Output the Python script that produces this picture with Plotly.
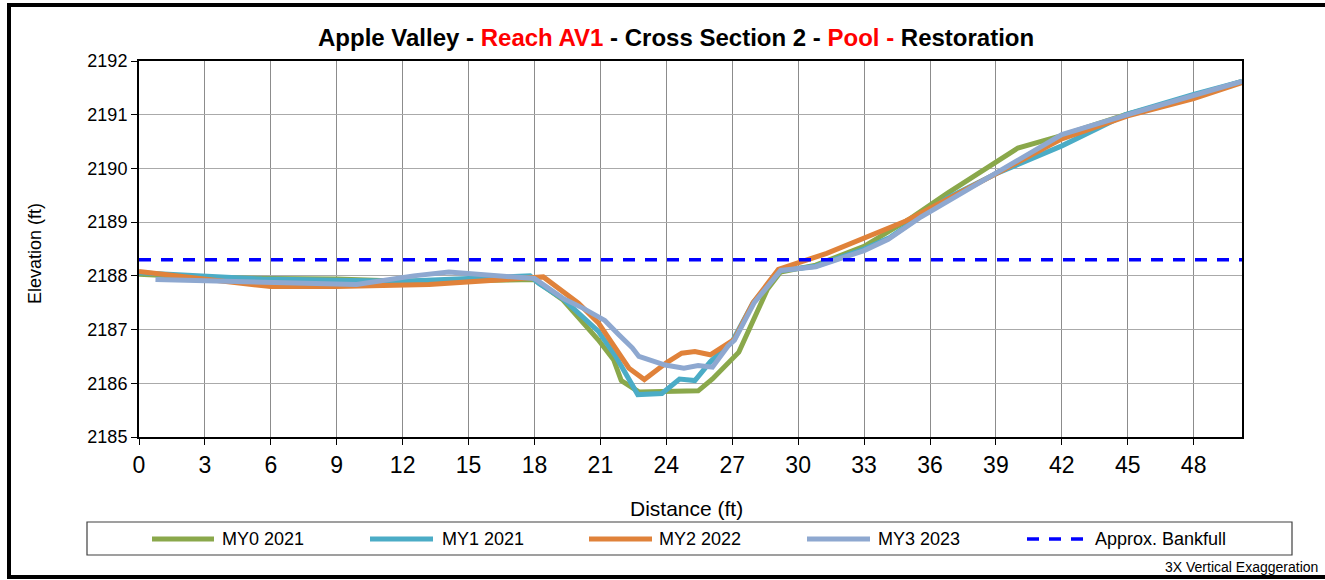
import plotly.graph_objects as go

# ---------------- data ----------------
my0_x = [0, 3, 6, 9, 12, 15, 18, 19.3, 20.9, 21.6, 21.95, 22.75, 25.45, 26.1, 27.3, 28.6, 29.2,
         30.8, 33.0, 35.0, 36.8, 40.0, 41.9, 44.9, 48.0, 50.2]
my0_y = [2188.03, 2187.97, 2187.95, 2187.94, 2187.9, 2187.92, 2187.93, 2187.55, 2186.81, 2186.44,
         2186.05, 2185.84, 2185.86, 2186.08, 2186.58, 2187.75, 2188.07,
         2188.2, 2188.55, 2189.04, 2189.54, 2190.38, 2190.6, 2191.0, 2191.34, 2191.62]

my1_x = [0, 3, 5.6, 9, 12, 15, 17.8, 18.2, 19.3, 20.9, 21.7, 22.7, 23.8, 24.6, 25.3, 26.0, 27.0,
         27.95, 29.2, 30.8, 33.0, 34.2, 36.8, 39.0, 42.0, 44.9, 48.0, 50.2]
my1_y = [2188.06, 2187.99, 2187.94, 2187.92, 2187.9, 2187.95, 2188.0, 2187.86, 2187.57, 2186.97,
         2186.5, 2185.79, 2185.81, 2186.08, 2186.05, 2186.4, 2186.78,
         2187.5, 2188.1, 2188.18, 2188.5, 2188.72, 2189.45, 2189.9, 2190.42, 2191.0, 2191.38, 2191.62]

my2_x = [0, 3, 6, 9, 13.2, 18.4, 20.0, 20.9, 21.6, 22.3, 23.0, 24.0, 24.7, 25.3, 26.0, 27.1,
         27.95, 29.1, 31.3, 33.0, 34.9, 39.0, 42.0, 45.0, 48.0, 50.2]
my2_y = [2188.08, 2187.95, 2187.8, 2187.8, 2187.84, 2187.98, 2187.49, 2187.13, 2186.72, 2186.28,
         2186.07, 2186.38, 2186.56, 2186.59, 2186.53, 2186.82,
         2187.5, 2188.12, 2188.42, 2188.71, 2189.02, 2189.9, 2190.55, 2190.98, 2191.3, 2191.6]

my3_x = [0.75, 6, 9.9, 12.5, 14.1, 18.0, 19.3, 20.2, 21.2, 21.85, 22.45, 22.75, 23.95, 24.8, 25.45,
         26.1, 26.8, 27.1, 28.0, 29.2, 30.8, 33.0, 34.1, 35.6, 38.9, 42.0, 45.0, 48.0, 50.2]
my3_y = [2187.93, 2187.88, 2187.84, 2188.0, 2188.07, 2187.95, 2187.58, 2187.4, 2187.17, 2186.9,
         2186.66, 2186.5, 2186.34, 2186.28, 2186.33,
         2186.3, 2186.69, 2186.8, 2187.5, 2188.1, 2188.17, 2188.47, 2188.68, 2189.1, 2189.88,
         2190.63, 2191.0, 2191.37, 2191.62]

bankfull_x = [0, 50.2]
bankfull_y = [2188.3, 2188.3]

series_names = ["MY0 2021", "MY1 2021", "MY2 2022", "MY3 2023", "Approx. Bankfull"]
series_colors = ["#8AA84B", "#4BACC6", "#E0823A", "#8EA8D0", "#0000FF"]

x_ticks = list(range(0, 49, 3))
y_ticks = list(range(2185, 2193))

# ---------------- layout geometry ----------------
W, H = 1325, 580
L, R, T, B = 139, 1242, 61, 437
FONT = "Liberation Sans, Arial, sans-serif"


def px_x(px):
    return (px - L) / (R - L)


def px_y(py):
    return (B - py) / (B - T)


fig = go.Figure()
data = [(my0_x, my0_y), (my1_x, my1_y), (my2_x, my2_y), (my3_x, my3_y)]
for (xs, ys), name, col in zip(data, series_names[:4], series_colors[:4]):
    fig.add_trace(go.Scatter(x=xs, y=ys, mode="lines", name=name,
                             line=dict(color=col, width=5), showlegend=False))
fig.add_trace(go.Scatter(x=bankfull_x, y=bankfull_y, mode="lines", name=series_names[4],
                         line=dict(color=series_colors[4], width=3.5, dash="12px,10px"),
                         showlegend=False))

shapes = []
annotations = []

# outer chart frame (right side runs off the canvas as in the reference)
shapes.append(dict(type="rect", xref="paper", yref="paper",
                   x0=px_x(9), x1=px_x(1330), y0=px_y(577), y1=px_y(5),
                   line=dict(color="black", width=4)))

# legend box
shapes.append(dict(type="rect", xref="paper", yref="paper",
                   x0=px_x(87), x1=px_x(1292), y0=px_y(555), y1=px_y(522),
                   line=dict(color="#404040", width=1.2)))
leg_y = px_y(539)
sample_x = [(152, 214), (370, 433), (589, 652), (807, 870), (1027, 1087)]
text_x = [220, 440, 657, 876, 1093]
for i, name in enumerate(series_names):
    x0, x1 = sample_x[i]
    if i < 4:
        line = dict(color=series_colors[i], width=5)
    else:
        line = dict(color=series_colors[i], width=3.5, dash="12px,10px")
    shapes.append(dict(type="line", xref="paper", yref="paper",
                       x0=px_x(x0), x1=px_x(x1), y0=leg_y, y1=leg_y, line=line))
    annotations.append(dict(xref="paper", yref="paper", x=px_x(text_x[i]), y=leg_y,
                            text=name, showarrow=False, xanchor="left", yanchor="middle",
                            font=dict(family=FONT, size=18, color="black")))

# title
title_txt = ("<b>Apple Valley - <span style='color:#FF0000'>Reach AV1</span> - Cross Section 2 - "
             "<span style='color:#FF0000'>Pool -</span> Restoration</b>")
annotations.append(dict(xref="paper", yref="paper", x=px_x(676), y=px_y(38), text=title_txt,
                        showarrow=False, xanchor="center", yanchor="middle",
                        font=dict(family=FONT, size=24, color="black")))

# axis titles
annotations.append(dict(xref="paper", yref="paper", x=px_x(686), y=px_y(508), text="Distance (ft)",
                        showarrow=False, xanchor="center", yanchor="middle",
                        font=dict(family=FONT, size=21, color="black")))
annotations.append(dict(xref="paper", yref="paper", x=px_x(35), y=px_y(254), text="Elevation (ft)",
                        showarrow=False, xanchor="center", yanchor="middle", textangle=-90,
                        font=dict(family=FONT, size=18, color="black")))

# footnote
annotations.append(dict(xref="paper", yref="paper", x=px_x(1320), y=px_y(567),
                        text="3X Vertical Exaggeration", showarrow=False,
                        xanchor="right", yanchor="middle",
                        font=dict(family=FONT, size=14, color="black")))

fig.update_layout(
    width=W, height=H,
    margin=dict(l=L, r=W - R, t=T, b=H - B, pad=0),
    paper_bgcolor="white", plot_bgcolor="white",
    showlegend=False,
    shapes=shapes, annotations=annotations,
    font=dict(family=FONT, color="black"),
)
fig.update_xaxes(range=[0, 50.2], tickmode="array", tickvals=x_ticks,
                 ticks="outside", ticklen=6, tickcolor="black", tickwidth=1,
                 showgrid=True, gridcolor="#8C8C8C", gridwidth=1,
                 showline=True, linecolor="black", linewidth=2, mirror=True,
                 zeroline=False, tickfont=dict(family=FONT, size=23, color="black"))
fig.update_yaxes(range=[2185, 2192], tickmode="array", tickvals=y_ticks,
                 ticks="outside", ticklen=6, tickcolor="black", tickwidth=1,
                 showgrid=True, gridcolor="#AAAAAA", gridwidth=1.3,
                 showline=True, linecolor="black", linewidth=2, mirror=True,
                 zeroline=False, tickfont=dict(family=FONT, size=18, color="black"))

fig.write_html("out.html", config={"displayModeBar": False},
               post_script="document.body.style.margin='0px';document.body.style.overflow='hidden';")
